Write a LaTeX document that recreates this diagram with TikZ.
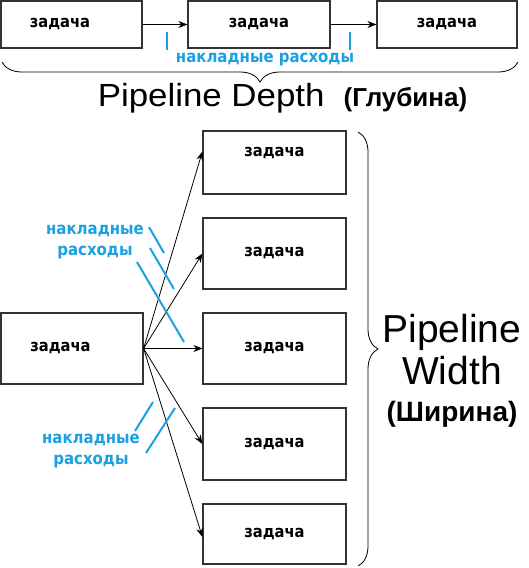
\documentclass[tikz,border=0pt]{standalone}
\usepackage{fontspec}
\setmainfont{DejaVu Sans}
\newfontfamily\headfont{Liberation Sans}
\newfontfamily\taskfont[FakeStretch=0.89]{DejaVu Sans}
\usepackage{graphicx}
\usepackage{tikz}
\usetikzlibrary{
	positioning,
	arrows.meta,
	decorations.pathreplacing
}
\definecolor{overhead}{RGB}{27,161,226}

\begin{document}
\begin{tikzpicture}[x=1pt,y=-1pt,
	task/.style={draw=black!80,line width=1.2pt,inner sep=0pt,
		font=\taskfont\bfseries\fontsize{16.5}{18}\selectfont},
	offleft/.style={execute at end node={\hspace{23pt}}},
	flow/.style={-{Stealth[length=9pt,width=7pt]},line width=0.8pt},
	cost/.style={overhead,line width=2pt},
	costtext/.style={text=overhead,align=center,
		font=\taskfont\bfseries\fontsize{16.8}{21}\selectfont},
	span/.style={decorate,decoration={brace,amplitude=20pt},line width=0.8pt}
]
	\useasboundingbox (0,0) rectangle (529,568);
	% depth
	\node [task,offleft,minimum width=141pt,minimum height=47pt] (t1) at (71.5,24.5) {задача};
	\node [task,minimum width=142pt,minimum height=47pt] (t2) at (259,24.5)  {задача};
	\node [task,minimum width=140pt,minimum height=47pt] (t3) at (447,24.5)  {задача};
	\draw[flow] (t1) -- (t2);
	\draw[flow] (t2) -- (t3);
	\draw[cost] (167,32) -- (167,50);
	\draw[cost] (350,32) -- (350,50);
	\node [costtext] (dcost) at (265,60) {накладные расходы};
	\draw[span] (518,62) -- (2,62);
	\node [font=\headfont\fontsize{32}{32}\selectfont] (depth) at (282.5,98)
		{\scalebox{1.09}[1]{Pipeline Depth}\hspace{19pt}{\bfseries\fontsize{26}{26}\selectfont(Глубина)}};
	% width
	\node [task,offleft,minimum width=142pt,minimum height=71pt] (src) at (72,348.5) {задача};
	\node [task,minimum width=143pt,minimum height=63pt,text depth=21pt] (wa) at (274.5,162.5) {задача};
	\node [task,minimum width=143pt,minimum height=71pt] (wb) at (274.5,253.5) {задача};
	\node [task,minimum width=143pt,minimum height=71pt] (wc) at (274.5,348.5) {задача};
	\node [task,minimum width=143pt,minimum height=72pt] (wd) at (274.5,444)   {задача};
	\node [task,minimum width=143pt,minimum height=60pt] (we) at (274.5,534)   {задача};
	\draw[flow] (src.east) -- ([yshift=11pt]wa.west);
	\draw[flow] (src.east) -- (wb.west);
	\draw[flow] (src.east) -- (wc.west);
	\draw[flow] (src.east) -- (wd.west);
	\draw[flow] (src.east) -- ([yshift=-3pt]we.west);
	\draw[cost] (149,227) -- (164,253);
	\draw[cost] (150,248) -- (174,289);
	\draw[cost] (137,262) -- (184,342);
	\draw[cost] (153,402) -- (135,431);
	\draw[cost] (175,408) -- (146,453);
	\node [costtext] (ucost) at (95,242) {накладные\\расходы};
	\node [costtext] (lcost) at (91,451) {накладные\\расходы};
	\draw[span] (358,132) -- (358,566);
	\node [align=center,font=\headfont\fontsize{39}{42}\selectfont] (width) at (452,371)
		{Pipeline\\Width\\[-5pt]{\bfseries\fontsize{28}{28}\selectfont(Ширина)}};
\end{tikzpicture}
\end{document}
